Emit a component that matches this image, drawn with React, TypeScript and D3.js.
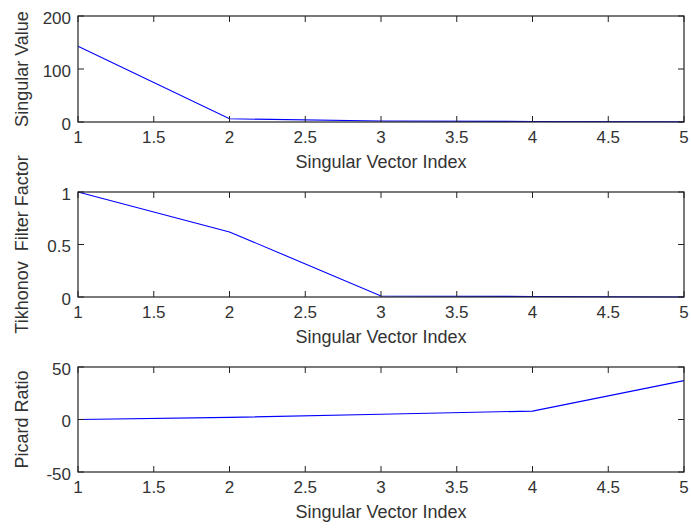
import React from "react";
import * as d3 from "d3";

// x positions (singular vector index)
const indices = [1, 2, 3, 4, 5];
// singular values of the system matrix
const singularValues = [143, 6, 2, 1, 0.5];
// Tikhonov filter factors
const filterFactors = [1, 0.62, 0.01, 0.005, 0];
// Picard ratios
const picardRatios = [0, 2, 5, 8, 37];

const xTicks = [1, 1.5, 2, 2.5, 3, 3.5, 4, 4.5, 5];
const panels = [
  { label: "Singular Value", values: singularValues, domain: [0, 200], ticks: [0, 100, 200], top: 16, bottom: 122 },
  { label: "Tikhonov  Filter Factor", values: filterFactors, domain: [0, 1], ticks: [0, 0.5, 1], top: 192, bottom: 297 },
  { label: "Picard Ratio", values: picardRatios, domain: [-50, 50], ticks: [-50, 0, 50], top: 367, bottom: 472 },
];

const W = 691;
const H = 528;
const LEFT = 78;
const RIGHT = 684;
const FONT = "Arial, 'Liberation Sans', sans-serif";
const TICK = 6;

export default function App() {
  const x = d3.scaleLinear().domain([1, 5]).range([LEFT, RIGHT]);
  return (
    <svg width={W} height={H} style={{ position: "absolute", left: 0, top: 0, background: "#fff" }}>
      {panels.map((p, pi) => {
        const y = d3.scaleLinear().domain(p.domain).range([p.bottom, p.top]);
        const line = d3
          .line<number>()
          .x((_, i) => x(indices[i]))
          .y((d) => y(d));
        const fmt = (v: number) => String(v);
        return (
          <g key={pi}>
            <rect x={LEFT} y={p.top} width={RIGHT - LEFT} height={p.bottom - p.top} fill="#fff" />
            <path d={line(p.values) || ""} fill="none" stroke="#0000ff" strokeWidth={1.1} />
            <rect
              x={LEFT}
              y={p.top}
              width={RIGHT - LEFT}
              height={p.bottom - p.top}
              fill="none"
              stroke="#222"
              strokeWidth={1.2}
            />
            {xTicks.map((t) => (
              <g key={t}>
                <line x1={x(t)} x2={x(t)} y1={p.bottom} y2={p.bottom - TICK} stroke="#222" />
                <line x1={x(t)} x2={x(t)} y1={p.top} y2={p.top + TICK} stroke="#222" />
                <text
                  x={x(t)}
                  y={p.bottom + 21}
                  textAnchor="middle"
                  fontFamily={FONT}
                  fontSize={17}
                  fill="#333"
                >
                  {fmt(t)}
                </text>
              </g>
            ))}
            {p.ticks.map((t) => (
              <g key={t}>
                <line x1={LEFT} x2={LEFT + TICK} y1={y(t)} y2={y(t)} stroke="#222" />
                <line x1={RIGHT} x2={RIGHT - TICK} y1={y(t)} y2={y(t)} stroke="#222" />
                <text
                  x={LEFT - 7}
                  y={y(t)}
                  dy="0.45em"
                  textAnchor="end"
                  fontFamily={FONT}
                  fontSize={17}
                  fill="#333"
                >
                  {fmt(t)}
                </text>
              </g>
            ))}
            <text
              x={(LEFT + RIGHT) / 2}
              y={p.bottom + 46}
              textAnchor="middle"
              fontFamily={FONT}
              fontSize={18}
              fill="#333"
            >
              {"Singular Vector Index"}
            </text>
            <text
              transform={`translate(28,${(p.top + p.bottom) / 2}) rotate(-90)`}
              textAnchor="middle"
              fontFamily={FONT}
              fontSize={18}
              fill="#333"
              style={{ whiteSpace: "pre" }}
            >
              {p.label}
            </text>
          </g>
        );
      })}
    </svg>
  );
}
